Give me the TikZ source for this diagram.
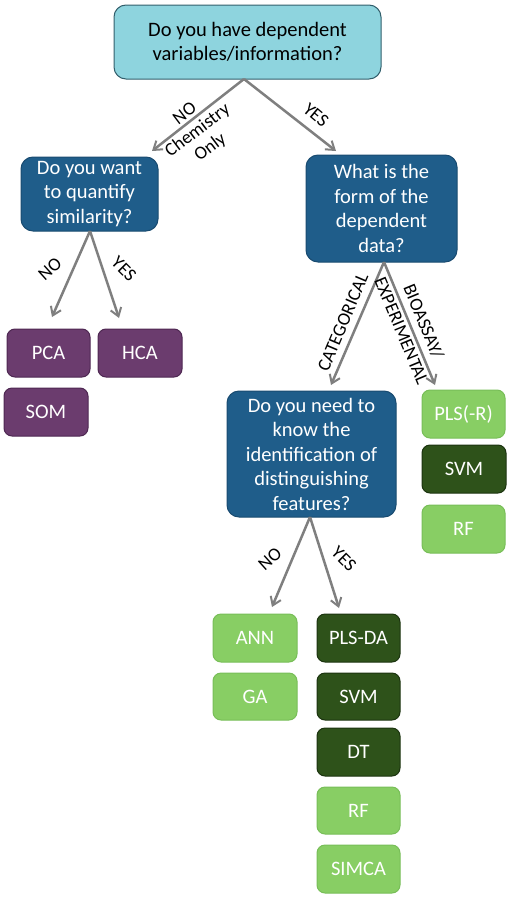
\documentclass[tikz,border=0pt]{standalone}
\usepackage{fontspec}
\setmainfont{Carlito}
\usetikzlibrary{arrows.meta}
\definecolor{topfill}{RGB}{142,212,222}
\definecolor{topdraw}{RGB}{50,95,108}
\definecolor{qfill}{RGB}{31,93,138}
\definecolor{qdraw}{RGB}{25,75,112}
\definecolor{pfill}{RGB}{107,60,110}
\definecolor{pdraw}{RGB}{78,40,82}
\definecolor{lgfill}{RGB}{136,206,100}
\definecolor{lgdraw}{RGB}{120,190,88}
\definecolor{dgfill}{RGB}{46,82,26}
\definecolor{dgdraw}{RGB}{28,52,16}
\definecolor{arrgray}{RGB}{127,127,127}
\tikzset{
  qbox/.style={draw=qdraw, fill=qfill, line width=1pt, rounded corners=12pt, text=white, align=center, inner sep=0pt, font=\fontsize{20.5}{24.5}\selectfont},
  topbox/.style={qbox, draw=topdraw, fill=topfill, text=black},
  leaf/.style={line width=1pt, rounded corners=8pt, text=white, inner sep=0pt, minimum width=84pt, minimum height=48pt, font=\fontsize{20.5}{24}\selectfont},
  purple leaf/.style={leaf, draw=pdraw, fill=pfill},
  lg leaf/.style={leaf, draw=lgdraw, fill=lgfill},
  dg leaf/.style={leaf, draw=dgdraw, fill=dgfill},
  conn/.style={draw=arrgray, line width=2.5pt, -{Straight Barb[length=8pt,width=11pt,line width=2pt]}},
  lbl/.style={font=\fontsize{18.5}{21}\selectfont, align=center, inner sep=0pt, text=black}
}
\begin{document}
\begin{tikzpicture}[x=1pt, y=-1pt]
\useasboundingbox (0,0) rectangle (510,897);
% question boxes
\node[topbox, minimum width=267pt, minimum height=74pt] (q0) at (247.5,42) {Do you have dependent\\variables/information?};
\node[qbox, minimum width=137pt, minimum height=74pt] (q1) at (89.5,194) {Do you want\\to quantify\\similarity?};
\node[qbox, minimum width=151pt, minimum height=107pt] (q2) at (381.5,208.5) {What is the\\form of the\\dependent\\data?};
\node[qbox, minimum width=169pt, minimum height=126pt] (q3) at (311.5,454) {Do you need to\\know the\\identification of\\distinguishing\\features?};
% leaves
\node[purple leaf, minimum width=83pt] (pca) at (48.5,353) {PCA};
\node[purple leaf] (hca) at (140,353) {HCA};
\node[purple leaf] (som) at (46,412) {SOM};
\node[lg leaf, minimum width=83pt] (plsr) at (463.5,414) {PLS(-R)};
\node[dg leaf] (svmr) at (464,469) {SVM};
\node[lg leaf, minimum width=83pt] (rfr) at (463.5,529) {RF};
\node[lg leaf] (ann) at (255,638) {ANN};
\node[lg leaf, minimum height=47pt] (ga) at (255,696.5) {GA};
\node[dg leaf, minimum width=83pt] (plsda) at (358.5,638) {PLS-DA};
\node[dg leaf, minimum width=83pt, minimum height=47pt] (svmb) at (358.5,696.5) {SVM};
\node[dg leaf, minimum width=83pt] (dt) at (358.5,752) {DT};
\node[lg leaf, minimum width=83pt, minimum height=47pt] (rfb) at (358.5,810.5) {RF};
\node[lg leaf, minimum width=83pt] (simca) at (358.5,869) {SIMCA};
% arrow end points
\coordinate (s0) at (244,79);
\coordinate (e0l) at (152,151);
\coordinate (e0r) at (336,151);
\coordinate (s1) at (90,231);
\coordinate (e1l) at (52,317);
\coordinate (e1r) at (119,318);
\coordinate (s2) at (384,262);
\coordinate (e2l) at (331,385);
\coordinate (e2r) at (435,385);
\coordinate (s3) at (310,517);
\coordinate (e3l) at (272,607);
\coordinate (e3r) at (339,608);
\draw[conn] (s0) -- (e0l);
\draw[conn] (s0) -- (e0r);
\draw[conn] (s1) -- (e1l);
\draw[conn] (s1) -- (e1r);
\draw[conn] (s2) -- (e2l);
\draw[conn] (s2) -- (e2r);
\draw[conn] (s3) -- (e3l);
\draw[conn] (s3) -- (e3r);
% labels
\node[lbl, rotate=37] (l0n) at (198,131) {NO\\Chemistry\\Only};
\node[lbl, rotate=-40] (l0y) at (316,115) {YES};
\node[lbl, rotate=42] (l1n) at (50,269) {NO};
\node[lbl, rotate=-45] (l1y) at (124,269) {YES};
\node[lbl, rotate=67] (l2c) at (343,322) {CATEGORICAL};
\node[lbl, rotate=-67.5] (l2b) at (413,326) {BIOASSAY/\\[3pt]EXPERIMENTAL};
\node[lbl, rotate=42] (l3n) at (270,559) {NO};
\node[lbl, rotate=-45] (l3y) at (344,559) {YES};
\end{tikzpicture}
\end{document}
